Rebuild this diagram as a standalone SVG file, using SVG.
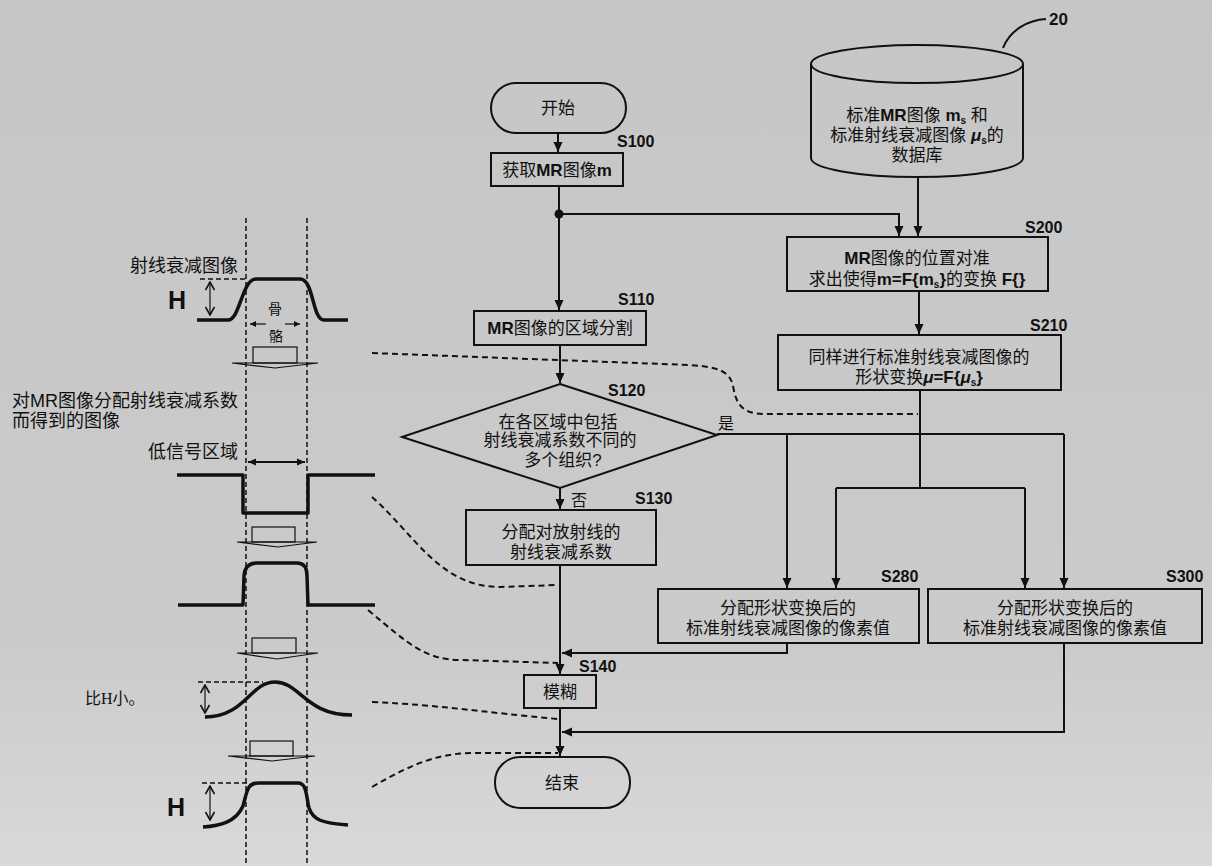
<svg xmlns="http://www.w3.org/2000/svg" width="1212" height="866" viewBox="0 0 1212 866">
<defs>
<linearGradient id="bg" x1="0" y1="0" x2="0" y2="1">
<stop offset="0" stop-color="#c6c6c6"/>
<stop offset="0.75" stop-color="#cbcbcb"/>
<stop offset="1" stop-color="#d9d9d9"/>
</linearGradient>
<marker id="ah" markerUnits="userSpaceOnUse" markerWidth="10" markerHeight="10" refX="10" refY="5" orient="auto">
<path d="M0,0.5 L10,5 L0,9.5 z" fill="#111"/>
</marker>
<marker id="ahs" markerUnits="userSpaceOnUse" markerWidth="8" markerHeight="8" refX="8" refY="4" orient="auto-start-reverse">
<path d="M0,0.5 L8,4 L0,7.5 z" fill="#111"/>
</marker>
<marker id="av" markerUnits="userSpaceOnUse" markerWidth="10" markerHeight="10" refX="9" refY="5" orient="auto-start-reverse">
<path d="M1,0.5 L9,5 L1,9.5" fill="none" stroke="#111" stroke-width="1.6"/>
</marker>
<marker id="at" markerUnits="userSpaceOnUse" markerWidth="6" markerHeight="6" refX="6" refY="3" orient="auto-start-reverse">
<path d="M0,0 L6,3 L0,6 z" fill="#111"/>
</marker>
</defs>
<style>
.box{fill:none;stroke:#111;stroke-width:2}
.ln{fill:none;stroke:#111;stroke-width:2}
.dash{fill:none;stroke:#111;stroke-width:2;stroke-dasharray:6 4}
.vdash{fill:none;stroke:#111;stroke-width:1.5;stroke-dasharray:5 3}
.thick{fill:none;stroke:#111;stroke-width:3.5;stroke-linejoin:round}
.thin{fill:none;stroke:#111;stroke-width:1.2}
.t{font-family:"Liberation Sans","Noto Sans CJK SC",sans-serif;font-size:17px;fill:#111;text-anchor:middle}
.tl{font-family:"Liberation Sans","Noto Sans CJK SC",sans-serif;font-size:18px;fill:#111}
.lab{font-family:"Liberation Sans","Noto Sans CJK SC",sans-serif;font-size:16px;font-weight:bold;fill:#111}
.b{font-weight:bold}
.sub{font-size:10px;font-weight:bold}
.H{font-family:"Liberation Sans",sans-serif;font-size:25px;font-weight:bold;fill:#111}
</style>
<rect x="0" y="0" width="1212" height="866" fill="url(#bg)"/>

<!-- left figure -->
<g id="profile-figure">
<path class="vdash" d="M246,218 L246,866"/>
<path class="vdash" d="M307,218 L307,866"/>
<text class="tl" x="238" y="272" text-anchor="end">射线衰减图像</text>
<path class="vdash" d="M200,279 L245,279"/>
<text class="H" x="168" y="309">H</text>
<path class="thin" d="M210,282 L210,315" marker-start="url(#av)" marker-end="url(#av)"/>
<path class="thick" d="M197,320 L228,320 C240,320 242,279 256,279 L300,279 C314,279 312,320 324,320 L348,320"/>
<text class="t" x="275" y="314" style="font-size:14px">骨</text>
<text class="t" x="276" y="341" style="font-size:14px">骼</text>
<path class="thin" d="M266,324 L250,324" marker-end="url(#at)"/>
<path class="thin" d="M285,324 L300,324" marker-end="url(#at)"/>
<rect class="thin" x="253" y="347" width="44" height="16"/>
<path class="thin" d="M232,363 L318,363 L275,368 Z"/>
<text class="tl" x="12" y="407">对MR图像分配射线衰减系数</text>
<text class="tl" x="12" y="427">而得到的图像</text>
<text class="tl" x="238" y="458" text-anchor="end">低信号区域</text>
<path class="ln" d="M248,462 L305,462" marker-start="url(#ahs)" marker-end="url(#ahs)"/>
<path class="thick" d="M177,475 L243,475 L243,513 L308,513 L308,475 L375,475"/>
<rect class="thin" x="252" y="527" width="43" height="15"/>
<path class="thin" d="M237,542 L317,542 L278,547 Z"/>
<path class="thick" d="M178,605 L243,605 L244,576 Q245,563 257,563 L297,563 Q307,563 307,576 L308,605 L375,605"/>
<rect class="thin" x="252" y="638" width="44" height="15"/>
<path class="thin" d="M237,653 L318,653 L277,659 Z"/>
<text x="85" y="704" style="font-family:'Liberation Serif','Noto Sans CJK SC',serif;font-size:16px;fill:#111">比H小。</text>
<path class="vdash" d="M198,682 L263,682"/>
<path class="thin" d="M205,685 L205,713" marker-start="url(#av)" marker-end="url(#av)"/>
<path class="thick" d="M205,717 C245,717 250,682 275,682 C300,682 305,715 352,715"/>
<rect class="thin" x="250" y="741" width="43" height="15"/>
<path class="thin" d="M228,756 L315,756 L272,761 Z"/>
<path class="vdash" d="M202,783 L249,783"/>
<text class="H" x="167" y="816">H</text>
<path class="thin" d="M210,786 L210,820" marker-start="url(#av)" marker-end="url(#av)"/>
<path class="thick" d="M203,827 C220,826 236,822 243,806 C247,792 247,783 258,783 L298,783 C307,783 306,796 309,808 C313,820 322,823 348,825"/>
</g>

<!-- dashed correspondence curves -->
<g id="correspondence">
<path class="dash" d="M372,353 L690,365 C720,367 730,372 733,386 C736,402 740,414 765,414 L918,414"/>
<path class="dash" d="M372,497 C415,535 440,587 500,587 L558,585"/>
<path class="dash" d="M368,610 C410,645 425,660 462,660 L558,663"/>
<path class="dash" d="M372,702 C440,705 480,712 558,719"/>
<path class="dash" d="M372,787 C415,762 440,753 475,753 L558,753"/>
</g>

<!-- connectors -->
<g id="connectors">
<path class="ln" d="M558,133 L558,152" marker-end="url(#ah)"/>
<path class="ln" d="M559,186 L559,310" marker-end="url(#ah)"/>
<circle cx="559" cy="214" r="4.5" fill="#111"/>
<path class="ln" d="M559,214 L899,214 L899,236" marker-end="url(#ah)"/>
<path class="ln" d="M918,177 L918,236" marker-end="url(#ah)"/>
<path class="ln" d="M560,345 L560,383" marker-end="url(#ah)"/>
<path class="ln" d="M919,291 L919,334" marker-end="url(#ah)"/>
<path class="ln" d="M920,390 L920,488"/>
<path class="ln" d="M836,488 L1025,488"/>
<path class="ln" d="M836,488 L836,588" marker-end="url(#ah)"/>
<path class="ln" d="M1025,488 L1025,588" marker-end="url(#ah)"/>
<path class="ln" d="M717,434 L1064,434"/>
<path class="ln" d="M787,434 L787,588" marker-end="url(#ah)"/>
<path class="ln" d="M1064,434 L1064,588" marker-end="url(#ah)"/>
<text class="lab" x="718" y="429" style="font-weight:normal">是</text>
<path class="ln" d="M560,488 L560,509" marker-end="url(#ah)"/>
<text class="lab" x="571" y="506" style="font-weight:normal">否</text>
<path class="ln" d="M560,565 L560,674" marker-end="url(#ah)"/>
<path class="ln" d="M787,643 L787,653 L562,653" marker-end="url(#ah)"/>
<path class="ln" d="M560,708 L560,756" marker-end="url(#ah)"/>
<path class="ln" d="M1064,643 L1064,732 L562,732" marker-end="url(#ah)"/>
</g>

<g id="db20">
<path class="box" d="M811,64 L811,158 A106,19 0 0 0 1023,158 L1023,64"/>
<ellipse class="box" cx="917" cy="64" rx="106" ry="19"/>
<path class="ln" d="M1046,19 C1028,20 1010,30 1003,48"/>
<text class="lab" x="1049" y="25" style="font-size:17px">20</text>
<text class="t" x="917" y="121">标准<tspan class="b">MR</tspan>图像 <tspan class="b">m</tspan><tspan class="sub" dy="3">s</tspan><tspan dy="-3"> 和</tspan></text>
<text class="t" x="917" y="141">标准射线衰减图像 <tspan class="b" font-style="italic">μ</tspan><tspan class="sub" dy="3">s</tspan><tspan dy="-3">的</tspan></text>
<text class="t" x="917" y="161">数据库</text>
</g>

<g id="start">
<rect class="box" x="491" y="83" width="135" height="50" rx="25"/>
<text class="t" x="558" y="114">开始</text>
</g>

<g id="S100">
<rect class="box" x="491" y="153" width="132" height="33"/>
<text class="t" x="557" y="176">获取<tspan class="b">MR</tspan>图像<tspan class="b">m</tspan></text>
<text class="lab" x="617" y="147">S100</text>
</g>

<g id="S110">
<rect class="box" x="474" y="311" width="172" height="34"/>
<text class="t" x="560" y="334"><tspan class="b">MR</tspan>图像的区域分割</text>
<text class="lab" x="618" y="305">S110</text>
</g>

<g id="S120">
<path class="box" d="M560,384 L717,435 L560,488 L402,437 Z"/>
<text class="t" x="558" y="428">在各区域中包括</text>
<text class="t" x="560" y="446">射线衰减系数不同的</text>
<text class="t" x="563" y="466">多个组织?</text>
<text class="lab" x="608" y="396">S120</text>
</g>

<g id="S130">
<rect class="box" x="466" y="510" width="190" height="55"/>
<text class="t" x="561" y="538">分配对放射线的</text>
<text class="t" x="561" y="558">射线衰减系数</text>
<text class="lab" x="635" y="504">S130</text>
</g>

<g id="S140">
<rect class="box" x="524" y="675" width="72" height="33"/>
<text class="t" x="560" y="698">模糊</text>
<text class="lab" x="579" y="672">S140</text>
</g>

<g id="end">
<rect class="box" x="495" y="757" width="135" height="51" rx="25"/>
<text class="t" x="562" y="789">结束</text>
</g>

<g id="S200">
<rect class="box" x="787" y="237" width="261" height="54"/>
<text class="t" x="917" y="264"><tspan class="b">MR</tspan>图像的位置对准</text>
<text class="t" x="917" y="285">求出使得<tspan class="b">m=F{m</tspan><tspan class="sub" dy="3">s</tspan><tspan class="b" dy="-3">}</tspan>的变换 <tspan class="b">F{}</tspan></text>
<text class="lab" x="1025" y="233">S200</text>
</g>

<g id="S210">
<rect class="box" x="778" y="335" width="283" height="55"/>
<text class="t" x="919" y="363">同样进行标准射线衰减图像的</text>
<text class="t" x="919" y="383">形状变换<tspan class="b" font-style="italic">μ</tspan><tspan class="b">=F{</tspan><tspan class="b" font-style="italic">μ</tspan><tspan class="sub" dy="3">s</tspan><tspan class="b" dy="-3">}</tspan></text>
<text class="lab" x="1030" y="331">S210</text>
</g>

<g id="S280">
<rect class="box" x="658" y="589" width="261" height="54"/>
<text class="t" x="788" y="614">分配形状变换后的</text>
<text class="t" x="788" y="634">标准射线衰减图像的像素值</text>
<text class="lab" x="881" y="582">S280</text>
</g>

<g id="S300">
<rect class="box" x="928" y="589" width="274" height="54"/>
<text class="t" x="1065" y="614">分配形状变换后的</text>
<text class="t" x="1065" y="634">标准射线衰减图像的像素值</text>
<text class="lab" x="1166" y="582">S300</text>
</g>
</svg>
